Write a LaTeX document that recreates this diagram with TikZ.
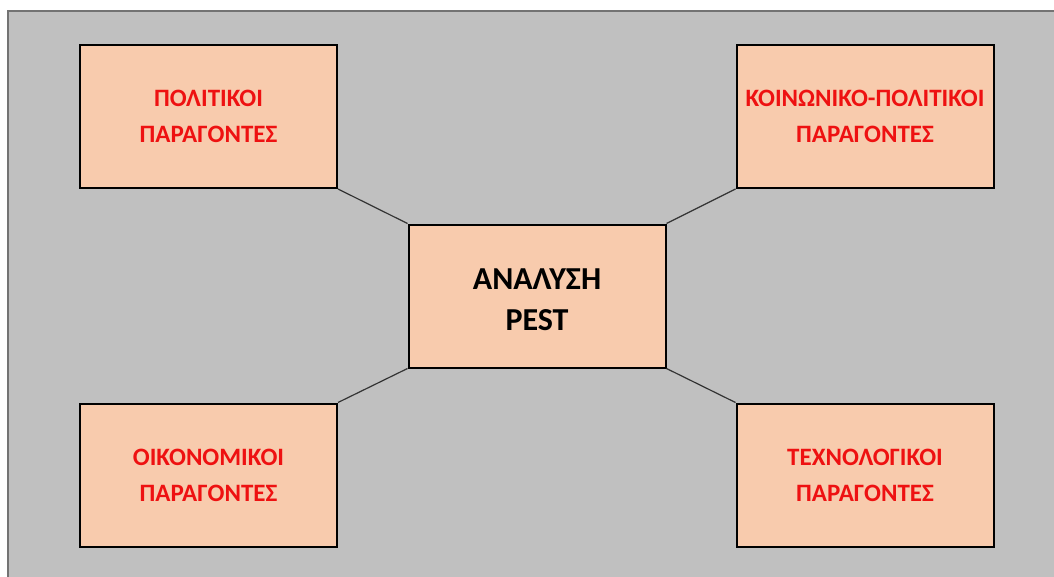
\documentclass[tikz,border=0pt]{standalone}
\usepackage{fontspec}
\setmainfont{Carlito}
\definecolor{bgray}{HTML}{C0C0C0}
\definecolor{boxfill}{HTML}{F8CBAD}
\definecolor{txtred}{HTML}{EE1111}
\begin{document}
\begin{tikzpicture}[x=1pt,y=-1pt,
  factor/.style={draw=black,line width=2pt,fill=boxfill,minimum width=257pt,minimum height=143pt,
    inner sep=0pt,align=center,text=txtred,font=\bfseries\fontsize{25}{36}\selectfont},
  centerbox/.style={factor,text=black,font=\bfseries\fontsize{32}{41}\selectfont},
  link/.style={draw=black!80,line width=1.2pt}]
\useasboundingbox (0,0) rectangle (1054,576);
\fill[white] (0,0) rectangle (1054,576);
\filldraw[fill=bgray,draw=black!55,line width=1.5pt] (8,11) rectangle (1060,590);
\node[centerbox] (c) at (537,296) {};
\node[align=center,font=\bfseries\fontsize{32}{41}\selectfont,inner sep=0pt] (ct) at (537,300) {ΑΝΑΛΥΣΗ\\PEST};
\node[factor] (tl) at (208.5,116.5) {ΠΟΛΙΤΙΚΟΙ\\ΠΑΡΑΓΟΝΤΕΣ};
\node[factor] (tr) at (865,116.5) {ΚΟΙΝΩΝΙΚΟ-ΠΟΛΙΤΙΚΟΙ\\ΠΑΡΑΓΟΝΤΕΣ};
\node[factor] (bl) at (208.5,475) {ΟΙΚΟΝΟΜΙΚΟΙ\\ΠΑΡΑΓΟΝΤΕΣ};
\node[factor] (br) at (865,475) {ΤΕΧΝΟΛΟΓΙΚΟΙ\\ΠΑΡΑΓΟΝΤΕΣ};
\draw[link] (tl.south east) -- (c.north west);
\draw[link] (tr.south west) -- (c.north east);
\draw[link] (bl.north east) -- (c.south west);
\draw[link] (br.north west) -- (c.south east);
\end{tikzpicture}
\end{document}
